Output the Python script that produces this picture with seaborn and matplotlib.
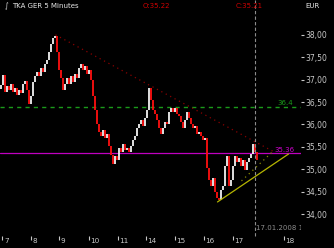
import numpy as np
import pandas as pd
import matplotlib
matplotlib.use("Agg")
import matplotlib.pyplot as plt
import matplotlib.transforms as mtransforms
import seaborn as sns

# ---- data (TKA GER, 5-minute bars) ----
closes = [
    36.88, 37.11, 36.73, 36.86, 36.77, 36.91, 36.73, 36.82, 36.66, 36.77,
    36.71, 36.91, 36.97, 36.77, 36.46, 36.64, 36.95, 37.08, 37.17, 37.08,
    37.26, 37.17, 37.35, 37.44, 37.62, 37.80, 37.93, 37.98, 37.62, 37.22,
    37.04, 36.77, 36.91, 37.04, 36.91, 37.08, 36.95, 37.13, 37.04, 37.26,
    37.35, 37.22, 37.31, 37.13, 37.22, 37.00, 36.64, 36.33, 36.01, 35.83,
    35.75, 35.88, 35.70, 35.79, 35.52, 35.32, 35.12, 35.30, 35.21, 35.48,
    35.39, 35.57, 35.43, 35.48, 35.39, 35.52, 35.66, 35.75, 35.92, 36.01,
    36.10, 35.97, 36.15, 36.33, 36.82, 36.55, 36.33, 36.24, 36.10, 35.92,
    35.79, 35.92, 36.06, 36.01, 36.28, 36.37, 36.28, 36.37, 36.24, 36.19,
    36.06, 35.92, 36.10, 36.28, 36.15, 36.01, 35.92, 35.97, 35.79, 35.83,
    35.75, 35.66, 35.70, 35.03, 34.76, 34.63, 34.81, 34.50, 34.36, 34.32,
    34.54, 34.63, 35.08, 35.30, 34.63, 34.76, 35.08, 35.30, 35.17, 35.25,
    35.08, 35.21, 34.99, 35.17, 35.25, 35.34, 35.57, 35.39, 35.21,
]
first_open = 36.80

day_labels = ["7", "8", "9", "10", "11", "14", "15", "16", "17", "18"]
day_ticks = [0.85, 15, 29, 44, 58.5, 72.5, 87, 101.5, 116, 141.5]
price_ticks = [34.0, 34.5, 35.0, 35.5, 36.0, 36.5, 37.0, 37.5, 38.0]

resistance_level = 36.40
resistance_label = "36.4"
pivot_level = 35.36
pivot_label = "35.36"

down_trend_x = [27.5, 137.5]
down_trend_y = [38.00, 35.37]
up_trend_x = [108.5, 144.0]
up_trend_y = [34.27, 35.34]
up_channel_x = [120.5, 136.0]
up_channel_y = [34.74, 35.39]

cursor_bar = 127
cursor_label = "17.01.2008 15"
title = "TKA GER 5 Minutes"
open_label = "O:35.22"
close_label = "C:35.21"
currency = "EUR"

# ---- style ----
sns.set_theme(style="dark", rc={
    "axes.facecolor": "black",
    "figure.facecolor": "black",
    "axes.edgecolor": "black",
})
plt.rcParams["font.family"] = ["DejaVu Sans"]

W, H = 334, 248
fig = plt.figure(figsize=(W / 100, H / 100), dpi=100, facecolor="black")
ax = fig.add_axes([0, 12 / H, 301 / W, 224 / H])
ax.set_facecolor("black")
for s in ax.spines.values():
    s.set_visible(False)

df = pd.DataFrame({"bar": np.arange(len(closes)), "close": closes})
df["open"] = df["close"].shift(1).fillna(first_open)
up = df["close"] >= df["open"]

ax.vlines(df.loc[up, "bar"], df.loc[up, "open"], df.loc[up, "close"],
          color="#f2f2f2", lw=1.3, zorder=3)
ax.vlines(df.loc[~up, "bar"], df.loc[~up, "open"], df.loc[~up, "close"],
          color="#ff1010", lw=1.3, zorder=3)

# horizontal levels
ax.axhline(resistance_level, color="#1a9a1a", lw=1.0, ls=(0, (3, 3)), zorder=2)
ax.axhline(pivot_level, color="#c000c0", lw=0.9, zorder=2)

# trend lines
sns.lineplot(x=down_trend_x, y=down_trend_y, ax=ax, color="#8a0000", lw=0.9,
             linestyle=(0, (1, 3)), zorder=2)
sns.lineplot(x=up_trend_x, y=up_trend_y, ax=ax, color="#b5b500", lw=0.9, zorder=4)
sns.lineplot(x=up_channel_x, y=up_channel_y, ax=ax, color="#8a8a00", lw=0.9,
             linestyle=(0, (1, 3)), zorder=4)

# cursor
ax.axvline(cursor_bar, ymin=0, ymax=1 + 12 / 224, color="#8c8c8c", lw=0.8,
           ls=(0, (3, 2)), zorder=5, clip_on=False)

ax.text(138.5, resistance_level + 0.01, resistance_label, color="#1a9a1a",
        fontsize=5, ha="left", va="bottom")
ax.text(137.0, pivot_level + 0.01, pivot_label, color="#d000d0",
        fontsize=5, ha="left", va="bottom")
ax.text(128.0, 33.68, cursor_label, color="#8c8c8c", fontsize=5,
        ha="left", va="center", clip_on=True)

ax.set_xlim(-0.25, 150.25)
ax.set_ylim(33.51, 38.51)

# y axis on right
ax.yaxis.tick_right()
ax.set_yticks(price_ticks)
ax.set_yticklabels([f"{v:.2f}".replace(".", ",") for v in price_ticks])
ax.tick_params(axis="y", colors="#c8c8c8", labelcolor="#c8c8c8", length=2.5,
               width=0.8, pad=1, labelsize=5.5, direction="out", left=False, right=True)

# x axis
ax.set_xticks(day_ticks)
ax.set_xticklabels(day_labels)
ax.tick_params(axis="x", colors="#c8c8c8", labelcolor="#c8c8c8", length=3,
               width=0.8, pad=-1.5, labelsize=5.2, direction="out", bottom=True)
offset = mtransforms.ScaledTranslation(1.8 / 100, 0, fig.dpi_scale_trans)
for lab in ax.get_xticklabels():
    lab.set_ha("left")
    lab.set_transform(lab.get_transform() + offset)
ax.grid(False)
ax.set_xlabel("")
ax.set_ylabel("")

# header texts
fig.text(5 / W, 1 - 6.5 / H, "\u222b", color="#e8e8e8", fontsize=5, ha="left", va="center")
fig.text(12 / W, 1 - 6.5 / H, title, color="#e8e8e8", fontsize=5, ha="left", va="center")
fig.text(143 / W, 1 - 6.5 / H, open_label, color="#d00000", fontsize=5, ha="left", va="center")
fig.text(236 / W, 1 - 6.5 / H, close_label, color="#d00000", fontsize=5, ha="left", va="center")
fig.text(305 / W, 1 - 6.5 / H, currency, color="#e8e8e8", fontsize=5, ha="left", va="center")

fig.savefig("out.png", dpi=100, facecolor="black")
